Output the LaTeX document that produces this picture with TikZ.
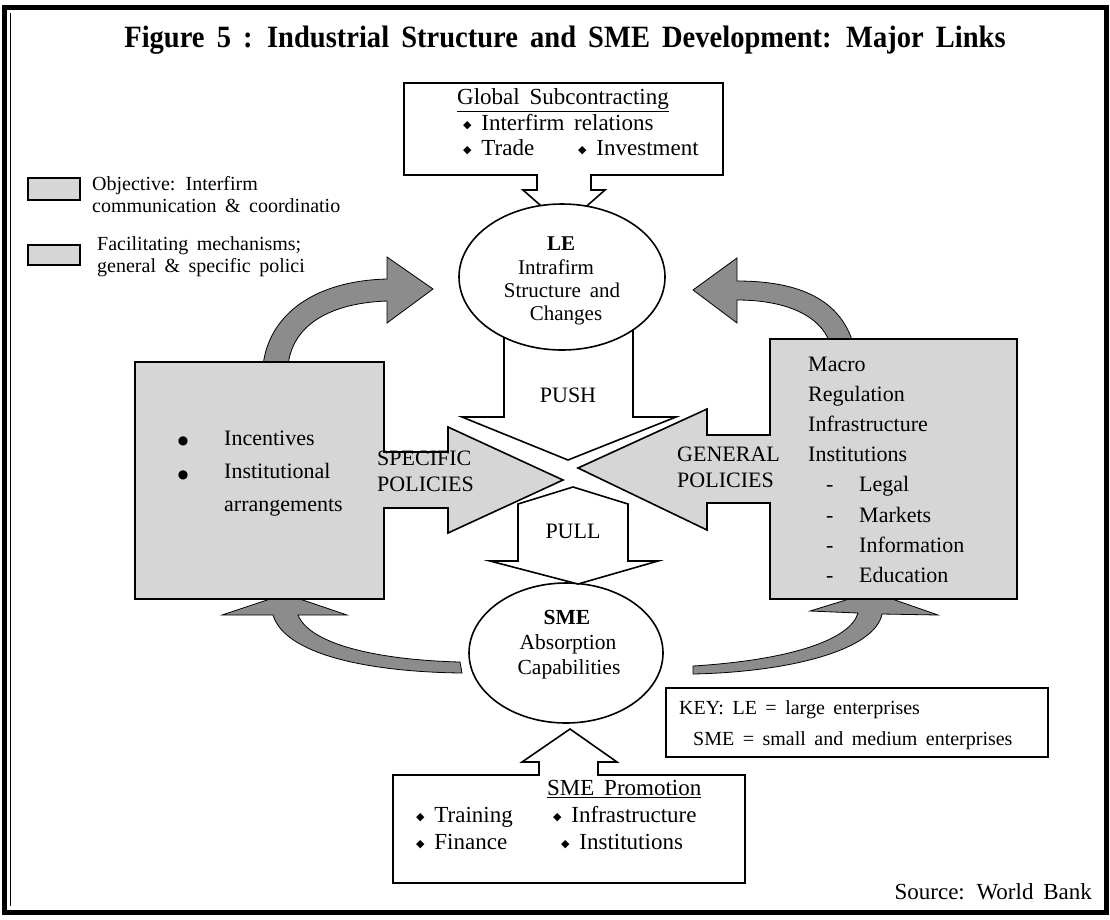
\documentclass[tikz,border=0pt]{standalone}
\usepackage{fontspec}
\setmainfont{Liberation Serif}[WordSpace=1.7]
\newfontfamily\symfont{DejaVu Sans}
\usetikzlibrary{shapes.geometric}
\newcommand\dia{\raisebox{1.5pt}{\symfont\fontsize{11}{11}\selectfont ◆}}
\newcommand\bul{{\symfont\fontsize{12}{12}\selectfont ●}}
\definecolor{dotgray}{gray}{0.84}
\definecolor{hatchgray}{gray}{0.55}
\tikzset{
 boxfill/.style={fill=dotgray, draw=black, line width=1.6},
 hatch/.style={fill=hatchgray, draw=black, line width=0.8},
 whitebox/.style={fill=white, draw=black, line width=1.6},
 t/.style={inner sep=0pt, text height=.68em, text depth=.2em, font=\fontsize{21}{25}\selectfont},
 tc/.style={t, anchor=center},
 tb/.style={t, font=\fontsize{22}{25}\selectfont, anchor=west},
 ts/.style={t, font=\fontsize{20}{25}\selectfont, anchor=west},
 tg/.style={t, font=\fontsize{23}{25}\selectfont, anchor=west},
 te/.style={t, font=\fontsize{21.5}{25}\selectfont, anchor=center},
}
\begin{document}
\begin{tikzpicture}[x=1pt,y=-1pt]
\useasboundingbox (0,0) rectangle (1110,919);
\fill[white] (0,0) rectangle (1110,919);
\draw[line width=5] (4,7) rectangle (1106,912);
\draw[line width=0.8] (10,13) -- (10,906);

% title
\node[inner sep=0pt, font=\fontsize{31}{31}\bfseries\selectfont] (title) at (565,40)
  {\scalebox{0.92}[1]{Figure 5 : Industrial Structure and SME Development: Major Links}};

% curved hatched arrows
\path[hatch] (263,366) .. controls (268,318) and (310,281) .. (387,279) -- (387,257) -- (433,289)
  -- (387,323) -- (387,301) .. controls (330,303) and (292,325) .. (288,366) -- cycle;
\path[hatch] (853,343) .. controls (840,300) and (800,281) .. (737,281) -- (737,258) -- (693,290)
  -- (737,323) -- (737,300) .. controls (785,300) and (820,315) .. (830,343) -- cycle;
\path[hatch] (460,662) .. controls (380,660) and (310,645) .. (298,615) -- (347,615) -- (285,594)
  -- (222,615) -- (273,615) .. controls (285,655) and (370,672) .. (462,673) -- cycle;
\path[hatch] (693,666) .. controls (790,660) and (850,640) .. (858,613) -- (810,611) -- (872,592)
  -- (938,615) -- (882,614) .. controls (875,650) and (790,672) .. (693,674) -- cycle;

% global subcontracting box with arrow
\path[whitebox] (404,83) -- (723,83) -- (723,175) -- (591,175) -- (591,190) -- (605,190) -- (564,226)
  -- (523,190) -- (537,190) -- (537,175) -- (404,175) -- cycle;
% PUSH arrow
\path[whitebox] (504,320) -- (504,417) -- (462,417) -- (568,460) -- (676,417) -- (633,417) -- (633,320) -- cycle;
% LE ellipse
\node[ellipse, whitebox, minimum width=206pt, minimum height=146pt, inner sep=0pt] (le) at (562,277) {};

% left box with SPECIFIC arrow
\path[boxfill] (135,362) -- (384,362) -- (384,452) -- (448,452) -- (448,427) -- (563,480) -- (448,533)
  -- (448,508) -- (384,508) -- (384,599) -- (135,599) -- cycle;
% right box with GENERAL arrow
\path[boxfill] (770,339) -- (1017,339) -- (1017,599) -- (770,599) -- (770,503) -- (707,503) -- (707,530)
  -- (578,468) -- (707,409) -- (707,435) -- (770,435) -- cycle;

% SME ellipse
\node[ellipse, whitebox, minimum width=194pt, minimum height=140pt, inner sep=0pt] (sme) at (566,653) {};
% PULL arrow
\path[whitebox] (518,504) -- (573,487) -- (628,504) -- (628,561) -- (658,561) -- (578,584) -- (490,561)
  -- (518,561) -- cycle;

% SME promotion box with arrow
\path[whitebox] (393,775) -- (539,775) -- (539,762) -- (522,762) -- (570,729) -- (617,762) -- (598,762)
  -- (598,775) -- (745,775) -- (745,883) -- (393,883) -- cycle;

% KEY box
\node[draw, line width=1.6, minimum width=382pt, minimum height=69pt, inner sep=0pt] (keybox) at (857,722.5) {};

% legend swatches
\node[boxfill, line width=1.4, minimum width=52pt, minimum height=22pt, inner sep=0pt] (sw1) at (54,189) {};
\node[boxfill, line width=1.4, minimum width=52pt, minimum height=20pt, inner sep=0pt] (sw2) at (54,255) {};

% legend texts
\node[ts] (lg1) at (92,188) {Objective: Interfirm};
\node[ts] (lg2) at (92,210) {communication \& coordinatio};
\node[ts] (lg3) at (97,248) {Facilitating mechanisms;};
\node[ts] (lg4) at (97,270) {general \& specific polici};

% global box texts
\node[tc, font=\fontsize{23}{25}\selectfont] (g0) at (563,102) {\underline{Global Subcontracting}};
\node[tg] (g1) at (463,128) {\dia\ Interfirm relations};
\node[tg] (g2) at (463,153) {\dia\ Trade};
\node[tg] (g3) at (578,153) {\dia\ Investment};

% LE texts
\node[te, font=\fontsize{21}{25}\bfseries\selectfont] (le0) at (561,248) {LE};
\node[te, font=\fontsize{21}{25}\selectfont] (le1) at (556,272) {Intrafirm};
\node[te, font=\fontsize{21}{25}\selectfont] (le2) at (562,295) {Structure and};
\node[te, font=\fontsize{21}{25}\selectfont] (le3) at (566,318) {Changes};

% PUSH / PULL
\node[tc, font=\fontsize{22}{25}\selectfont] (push) at (568,400) {PUSH};
\node[tc, font=\fontsize{22}{25}\selectfont] (pull) at (573,536) {PULL};

% SPECIFIC / GENERAL
\node[tb] (sp1) at (377,463) {SPECIFIC};
\node[tb] (sp2) at (377,489) {POLICIES};
\node[tb] (ge1) at (677,459) {GENERAL};
\node[tb] (ge2) at (677,485) {POLICIES};

% left box texts
\node[t, anchor=center] (b1) at (183,442) {\bul};
\node[t, anchor=center] (b2) at (183,476) {\bul};
\node[tb] (l1) at (224,443) {Incentives};
\node[tb] (l2) at (224,476) {Institutional};
\node[tb] (l3) at (224,509) {arrangements};

% right box texts
\node[tb] (r1) at (808,369) {Macro};
\node[tb] (r2) at (808,399) {Regulation};
\node[tb] (r3) at (808,429) {Infrastructure};
\node[tb] (r4) at (808,459) {Institutions};
\node[tb] (d1) at (826,489) {-};
\node[tb] (d2) at (826,520) {-};
\node[tb] (d3) at (826,550) {-};
\node[tb] (d4) at (826,580) {-};
\node[tb] (r5) at (859,489) {Legal};
\node[tb] (r6) at (859,520) {Markets};
\node[tb] (r7) at (859,550) {Information};
\node[tb] (r8) at (859,580) {Education};

% SME texts
\node[te, font=\fontsize{21.5}{25}\bfseries\selectfont] (s0) at (567,622) {SME};
\node[te] (s1) at (568,647) {Absorption};
\node[te] (s2) at (569,672) {Capabilities};

% KEY texts
\node[ts] (k1) at (679,712) {KEY: LE = large enterprises};
\node[ts] (k2) at (693,743) {SME = small and medium enterprises};

% SME promotion texts
\node[tg] (p0) at (547,793) {\underline{SME Promotion}};
\node[tg] (p1) at (416,820) {\dia\ Training};
\node[tg] (p2) at (553,820) {\dia\ Infrastructure};
\node[tg] (p3) at (416,847) {\dia\ Finance};
\node[tg] (p4) at (561,847) {\dia\ Institutions};

% source
\node[t, font=\fontsize{23}{25}\selectfont, anchor=east] (src) at (1092,897) {Source: World Bank};
\end{tikzpicture}
\end{document}
